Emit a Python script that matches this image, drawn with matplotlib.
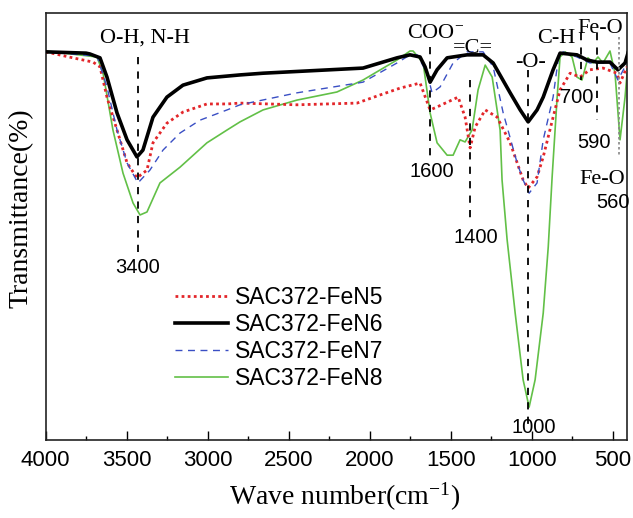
import matplotlib
matplotlib.use("Agg")
import matplotlib.pyplot as plt
from matplotlib.ticker import MultipleLocator

plt.rcParams['mathtext.fontset'] = 'custom'
plt.rcParams['mathtext.rm'] = 'Liberation Serif'
plt.rcParams['mathtext.it'] = 'Liberation Serif:italic'

SERIF = 'Liberation Serif'
SANS = 'Liberation Sans'

labels = ['SAC372-FeN5', 'SAC372-FeN6', 'SAC372-FeN7', 'SAC372-FeN8']

wn5 = [4000, 3832, 3708, 3665, 3622, 3560, 3498, 3437, 3375, 3338, 3252, 3153, 3005, 2881, 2801, 2450,
       2079, 1937, 1814, 1690, 1628, 1585, 1455, 1412, 1381, 1350, 1288, 1214, 1134, 1054, 1023, 968,
       930, 869, 826, 764, 703, 642, 561, 475, 456, 413]
t5 = [90.9, 89.5, 88.5, 87.4, 80.3, 72.6, 64.9, 61.4, 63.2, 69.6, 74.2, 76.8, 78.7, 78.7, 78.9, 78.5,
      78.9, 80.8, 82.4, 83.6, 77.3, 78.0, 80.3, 75.6, 68.4, 73.3, 77.3, 75.6, 69.6, 60.9, 59.0, 61.6,
      66.3, 75.6, 82.0, 85.9, 85.0, 86.7, 87.1, 85.9, 83.6, 87.4]

wn6 = [4000, 3751, 3727, 3665, 3622, 3560, 3498, 3437, 3400, 3338, 3252, 3153, 3005, 2801, 2659, 2042,
       1832, 1752, 1690, 1659, 1628, 1585, 1523, 1400, 1301, 1239, 1134, 1072, 1023, 968, 930, 869,
       826, 722, 660, 599, 518, 469, 425, 407]
t6 = [90.9, 90.6, 90.4, 89.5, 85.0, 76.6, 70.3, 66.3, 67.9, 75.6, 80.3, 83.1, 84.8, 85.5, 85.9, 87.1,
      89.5, 90.2, 89.7, 87.4, 83.8, 86.7, 89.5, 90.2, 90.2, 88.3, 81.3, 77.3, 74.5, 77.3, 80.3, 86.7,
      90.6, 90.2, 89.0, 88.5, 88.5, 86.7, 88.3, 90.6]

wn7 = [4000, 3683, 3622, 3560, 3498, 3431, 3357, 3276, 3171, 3048, 2881, 2801, 2450, 2042, 1832, 1752,
       1708, 1646, 1616, 1566, 1486, 1400, 1301, 1239, 1177, 1091, 1054, 1017, 968, 930, 869, 838,
       807, 722, 642, 518, 469, 413]
t7 = [90.9, 89.9, 82.7, 72.6, 64.9, 60.2, 63.2, 67.9, 71.9, 74.9, 77.3, 78.5, 81.3, 83.8, 88.3, 90.2,
      90.2, 85.9, 81.3, 82.7, 88.3, 90.9, 90.9, 87.4, 76.6, 64.9, 60.9, 57.8, 60.2, 70.3, 80.3, 89.0,
      90.9, 89.7, 88.3, 88.3, 84.3, 88.3]

wn8 = [4000, 3683, 3646, 3585, 3523, 3461, 3418, 3375, 3295, 3171, 3005, 2881, 2801, 2659, 2450, 2203,
       2042, 1832, 1752, 1733, 1671, 1628, 1585, 1523, 1486, 1443, 1412, 1369, 1332, 1288, 1245, 1196,
       1184, 1153, 1103, 1054, 1017, 980, 930, 899, 875, 844, 826, 795, 752, 722, 691, 654, 623, 592,
       561, 518, 487, 456, 425, 401]
t8 = [91.1, 89.7, 85.9, 72.6, 62.5, 55.5, 52.7, 53.4, 60.2, 63.9, 69.6, 72.6, 74.5, 77.3, 79.6, 81.5,
      84.3, 89.0, 91.1, 91.1, 88.3, 76.6, 69.6, 66.7, 66.7, 70.3, 69.8, 72.6, 82.0, 87.8, 85.0, 72.6,
      60.9, 47.0, 29.7, 14.1, 7.7, 14.1, 29.7, 45.2, 61.6, 80.3, 89.7, 90.9, 89.7, 85.0, 84.3, 89.5,
      88.3, 89.7, 88.3, 91.1, 85.9, 70.3, 80.3, 91.1]

# annotation marker lines: (wavenumber, y_top, y_bottom)
mark_wn = [3431, 1626, 1381, 1023, 694, 599]
mark_top = [89.7, 92.0, 84.3, 86.7, 95.3, 95.3]
mark_bot = [43.3, 66.0, 51.5, 2.3, 84.3, 74.9]
fe560_wn, fe560_top, fe560_bot = 463, 94.4, 66.3

W, H = 633, 518
fig = plt.figure(figsize=(W / 100, H / 100), dpi=100)
ax = fig.add_axes([45.7 / W, 1 - 440 / H, (627 - 45.7) / W, (440 - 13) / H])

ax.plot(wn5, t5, color='#e3262a', lw=2.0, ls=(0, (1, 1.2)), label=labels[0], zorder=3)
ax.plot(wn6, t6, color='black', lw=2.6, label=labels[1], zorder=4)
ax.plot(wn7, t7, color='#3a4fc4', lw=1.0, ls=(0, (5, 4)), label=labels[2], zorder=3)
ax.plot(wn8, t8, color='#62c047', lw=1.2, label=labels[3], zorder=2)

for x, a, b in zip(mark_wn, mark_top, mark_bot):
    ax.plot([x, x], [a, b], color='black', lw=1.3, ls=(0, (4, 4)), zorder=5)
ax.plot([fe560_wn, fe560_wn], [fe560_top, fe560_bot], color='#888888', lw=1.2, ls=(0, (1.5, 1.5)), zorder=5)

ax.set_xlim(4000, 413)
ax.set_ylim(0, 100)
ax.xaxis.set_major_locator(MultipleLocator(500))
ax.xaxis.set_minor_locator(MultipleLocator(250))
ax.tick_params(axis='x', which='major', direction='in', length=6.5, width=1.0, pad=7,
               labelsize=16)
ax.tick_params(axis='x', which='minor', direction='in', length=3.2, width=1.0)
ax.tick_params(axis='y', left=False, labelleft=False)
for lab in ax.get_xticklabels():
    lab.set_fontfamily(SANS)
for s in ax.spines.values():
    s.set_linewidth(1.2)
    s.set_color('#222222')

# annotation texts
tser = dict(family=SERIF, fontsize=16, ha='center', va='center')
tsan = dict(family=SANS, fontsize=14.5, ha='center', va='center')
ax.text(3387, 94.1, 'O-H, N-H', **tser)
ax.text(3431, 40.3, '3400', **tsan)
ax.text(1770, 95.3, 'COO$^{-}$', family=SERIF, fontsize=16, ha='left', va='center')
ax.text(1365, 91.8, '=C=', **tser)
ax.text(1616, 62.8, '1600', **tsan)
ax.text(1344, 47.5, '1400', **tsan)
ax.text(1011, 88.3, '-O-', **tser)
ax.text(986, 3.0, '1000', **tsan)
ax.text(850, 94.1, 'C-H', **tser)
ax.text(722, 80.3, '700', **tsan)
ax.text(580, 96.3, 'Fe-O', **tser)
ax.text(617, 69.6, '590', **tsan)
ax.text(567, 60.9, 'Fe-O', **tser)
ax.text(500, 55.7, '560', **tsan)

leg = ax.legend(loc='upper left', bbox_to_anchor=(175 / W, 1 - 286 / H), bbox_transform=fig.transFigure,
                frameon=False, prop={'family': SANS, 'size': 16.5}, handlelength=2.3,
                handletextpad=0.3, labelspacing=0.17, borderpad=0, borderaxespad=0)

fig.text(345 / W, 1 - 497 / H, 'Wave number(cm$^{-1}$)', family=SERIF, fontsize=20,
         ha='center', va='center')
fig.text(21 / W, 1 - 208 / H, 'Transmittance(%)', family=SERIF, fontsize=20,
         ha='center', va='center', rotation=90)

fig.savefig('out.png', dpi=100)
